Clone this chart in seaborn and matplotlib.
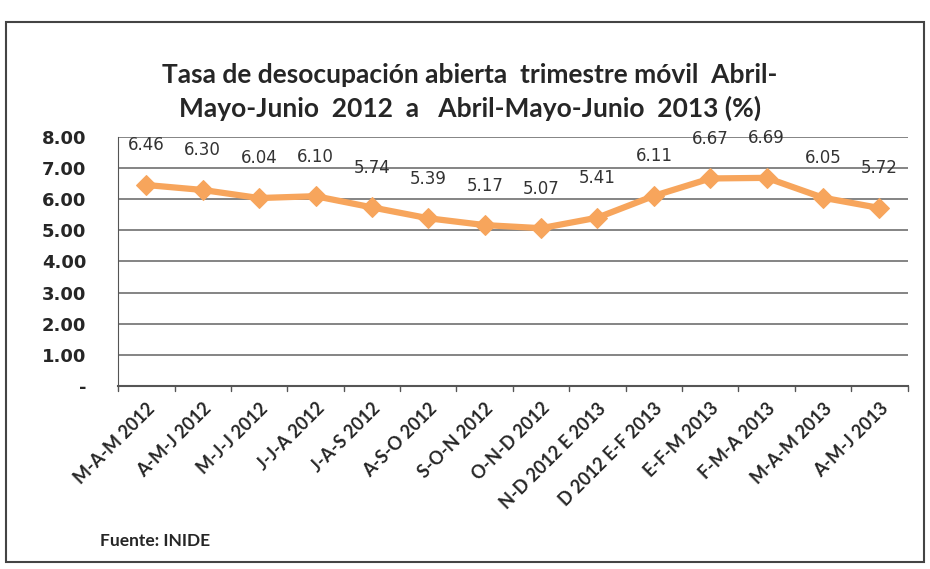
import numpy as np
import pandas as pd
import seaborn as sns
import matplotlib.pyplot as plt
from matplotlib.patches import Rectangle
from matplotlib.ticker import FuncFormatter

periods = ['M-A-M 2012', 'A-M-J 2012', 'M-J-J 2012', 'J-J-A 2012', 'J-A-S 2012',
           'A-S-O 2012', 'S-O-N 2012', 'O-N-D 2012', 'N-D 2012 E 2013',
           'D 2012 E-F 2013', 'E-F-M 2013', 'F-M-A 2013', 'M-A-M 2013', 'A-M-J 2013']
rate = [6.46, 6.30, 6.04, 6.10, 5.74, 5.39, 5.17, 5.07, 5.41, 6.11, 6.67, 6.69, 6.05, 5.72]

df = pd.DataFrame({'periodo': periods, 'tasa': rate})
df['pos'] = np.arange(len(df))

sns.set_style('white')
plt.rcParams['font.family'] = ['Lato', 'DejaVu Sans']

fig = plt.figure(figsize=(9.3, 5.69), dpi=100)
ax = fig.add_axes([0.127, 0.322, 0.849, 0.437])

orange = '#F7A55C'
sns.lineplot(data=df, x='pos', y='tasa', ax=ax, color=orange, linewidth=4.5,
             marker='D', markersize=10, markeredgecolor=orange, zorder=3)

for x, y in zip(df['pos'], df['tasa']):
    ax.annotate(f'{y:.2f}', (x, y), xytext=(0, 22), textcoords='offset points',
                ha='center', va='bottom', fontsize=12, color='#333333',
                family='DejaVu Sans')

ax.set_xlim(-0.5, len(df) - 0.5)
ax.set_ylim(0, 8)
ax.set_yticks(np.arange(0, 9, 1))
ax.yaxis.set_major_formatter(FuncFormatter(lambda v, p: '-' if v == 0 else f'{v:.2f}'))
ax.set_xticks(df['pos'])
ax.set_xticklabels(df['periodo'], rotation=45, ha='right', rotation_mode='anchor',
                   fontsize=13, fontweight='bold')
for lab in ax.get_yticklabels():
    lab.set_fontweight('bold')
    lab.set_fontsize(13)
    lab.set_family('DejaVu Sans')
ax.tick_params(axis='x', length=0, pad=10)
ax.tick_params(axis='y', length=5, pad=18, color='#555555', direction='out')

# category boundaries as ticks on the x-axis
for b in np.arange(-0.5, len(df), 1):
    ax.plot([b, b], [0, -0.18], color='#555555', lw=1, clip_on=False)

ax.grid(axis='y', color='#6f6f6f', lw=1.2)
ax.set_axisbelow(True)
for s in ['top', 'right']:
    ax.spines[s].set_visible(False)
ax.spines['left'].set_color('#555555')
ax.spines['bottom'].set_color('#555555')
ax.spines['bottom'].set_linewidth(1.5)
ax.set_xlabel('')
ax.set_ylabel('')

fig.text(0.505, 0.868, 'Tasa de desocupación abierta  trimestre móvil  Abril-',
         ha='center', va='center', fontsize=19, fontweight='bold')
fig.text(0.505, 0.81, 'Mayo-Junio  2012  a   Abril-Mayo-Junio  2013 (%)',
         ha='center', va='center', fontsize=19, fontweight='bold')
fig.text(0.108, 0.049, 'Fuente: INIDE', ha='left', va='center', fontsize=12.5,
         fontweight='bold')

fig.patches.append(Rectangle((0.006, 0.012), 0.988, 0.95, transform=fig.transFigure,
                             fill=False, edgecolor='#444444', lw=1.5))

plt.savefig('out.png', dpi=100)
